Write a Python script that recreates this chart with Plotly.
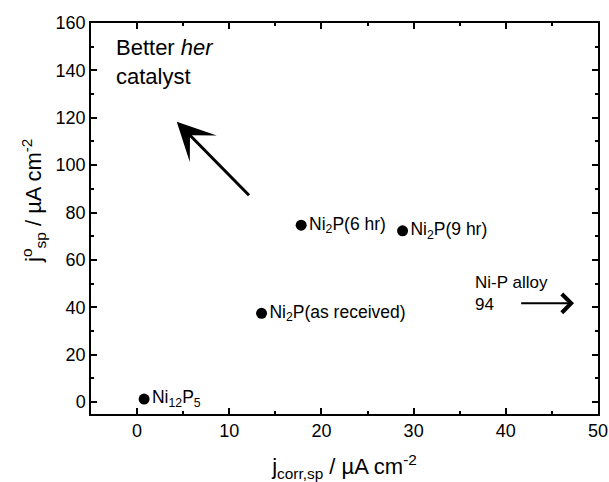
import plotly.graph_objects as go

# Data
j_corr = [0.76, 13.5, 17.8, 28.8]
j0_sp = [1.3, 37.5, 74.7, 72.3]
labels = ["Ni<sub>12</sub>P<sub>5</sub>", "Ni<sub>2</sub>P(as received)",
          "Ni<sub>2</sub>P(6 hr)", "Ni<sub>2</sub>P(9 hr)"]

x_ticks = [0, 10, 20, 30, 40, 50]
y_ticks = [0, 20, 40, 60, 80, 100, 120, 140, 160]

# annotation arrows (data coordinates)
better_arrow_tail = (12.3, 86.7)
better_arrow_head = (4.3, 118.3)
nip_arrow_tail = (41.5, 41.7)
nip_arrow_head = (47.4, 41.7)

FONT = "Arial, Liberation Sans, sans-serif"

fig = go.Figure()
fig.add_trace(go.Scatter(
    x=j_corr, y=j0_sp, mode="markers+text",
    text=labels, textposition="middle right",
    textfont=dict(family=FONT, size=17.5, color="black"),
    marker=dict(size=11, color="black"),
    showlegend=False, cliponaxis=False,
))

axis_common = dict(
    showline=True, linecolor="black", linewidth=1.5, mirror="ticks",
    ticks="inside", ticklen=6, tickwidth=1.5, tickcolor="black",
    showgrid=False, zeroline=False, automargin=False,
    tickfont=dict(family=FONT, size=18, color="black"),
    minor=dict(ticks="inside", ticklen=3, tickwidth=1.5, tickcolor="black", showgrid=False),
)

fig.update_xaxes(range=[-5, 50], tickvals=x_ticks, minor_dtick=5, minor_tick0=0,
                 title=dict(text="j<sub>corr,sp</sub> / µA cm<sup>-2</sup>",
                            font=dict(family=FONT, size=22, color="black"), standoff=20),
                 **axis_common)
fig.update_yaxes(range=[-5, 160], tickvals=y_ticks, minor_dtick=10, minor_tick0=0,
                 **axis_common)

# y-axis title placed as in the reference
fig.add_annotation(x=0, y=0.545, xref="paper", yref="paper", xshift=-57,
                   xanchor="center", yanchor="middle", textangle=-90, showarrow=False,
                   text="j<sup>o</sup><sub>sp</sub> / µA cm<sup>-2</sup>",
                   font=dict(family=FONT, size=22, color="black"))

fig.add_annotation(x=better_arrow_head[0], y=better_arrow_head[1],
                   ax=better_arrow_tail[0], ay=better_arrow_tail[1],
                   xref="x", yref="y", axref="x", ayref="y",
                   text="", showarrow=True, arrowhead=3, arrowsize=2.1,
                   arrowwidth=3, arrowcolor="black")
fig.add_annotation(x=nip_arrow_head[0], y=nip_arrow_head[1],
                   ax=nip_arrow_tail[0], ay=nip_arrow_tail[1],
                   xref="x", yref="y", axref="x", ayref="y",
                   text="", showarrow=True, arrowhead=4, arrowsize=1.8,
                   arrowwidth=2, arrowcolor="black")
fig.add_annotation(x=-2.5, y=143.5, xref="x", yref="y", xanchor="left", yanchor="middle",
                   text="Better <i>her</i><br>catalyst", showarrow=False, align="left",
                   font=dict(family=FONT, size=22, color="black"))
fig.add_annotation(x=36.4, y=45.8, xref="x", yref="y", xanchor="left", yanchor="middle",
                   text="Ni-P alloy<br>94", showarrow=False, align="left",
                   font=dict(family=FONT, size=17, color="black"))

fig.update_layout(
    width=609, height=482,
    margin=dict(l=91, r=11, t=23, b=68),
    plot_bgcolor="white", paper_bgcolor="white",
)

fig.write_html("out.html", config={"displayModeBar": False},
               post_script="document.body.style.margin='0';document.body.style.overflow='hidden';")
